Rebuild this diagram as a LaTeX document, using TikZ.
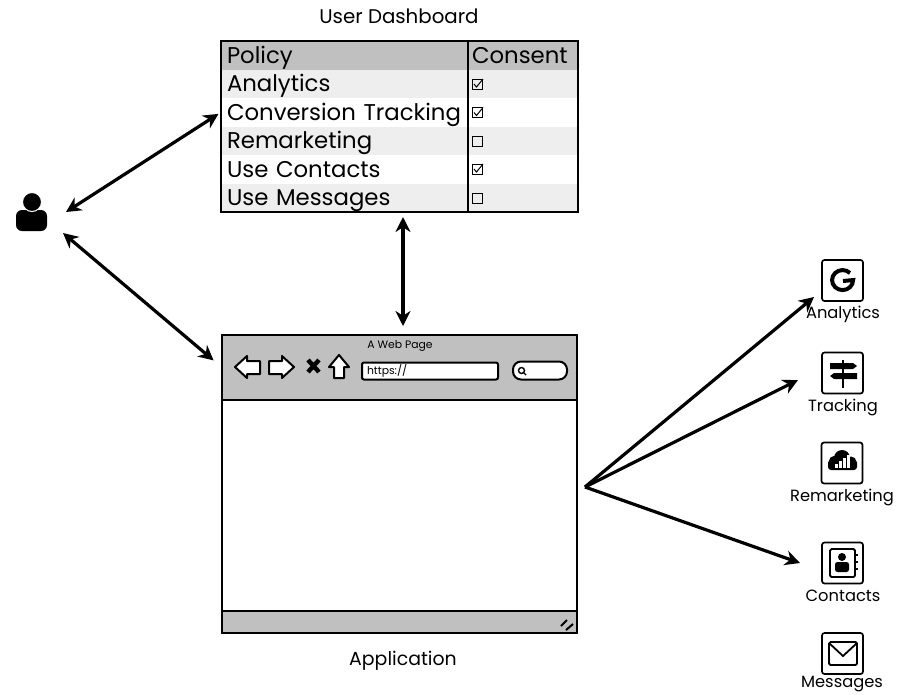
\documentclass[tikz,border=0pt]{standalone}
\usepackage{fontspec}
\setmainfont{Poppins}
\usetikzlibrary{arrows.meta}
\definecolor{barGray}{HTML}{C0C0C0}
\definecolor{rowGray}{HTML}{EEEEEE}
\tikzset{
	every node/.style={outer sep=0pt},
	policyrow/.style={anchor=north west,minimum width=247pt,minimum height=28.5pt,inner sep=0pt,text width=235pt,text height=18pt,text depth=2pt,align=left,font=\fontsize{22.8}{24}\selectfont},
	consentrow/.style={anchor=north west,minimum width=110pt,minimum height=28.5pt,inner sep=0pt,text width=102pt,text height=18pt,text depth=2pt,align=left,font=\fontsize{22.8}{24}\selectfont},
	flow/.style={line width=3.2pt,{Stealth[length=15pt,width=15pt]}-{Stealth[length=15pt,width=15pt]}},
	flowout/.style={line width=3.2pt,-{Stealth[length=15pt,width=15pt]}},
	iconbox/.style={draw=black,line width=1.7pt,rounded corners=2.5pt,minimum size=41pt,inner sep=0pt},
	iconlabel/.style={inner sep=0pt,font=\fontsize{16.3}{18}\selectfont},
	tick/.style={draw=black,line width=.8pt,minimum size=10pt,inner sep=0pt},
	sketch/.style={draw=black,line width=2pt,line join=round}
}
\begin{document}
\begin{tikzpicture}[x=1pt,y=-1pt]
	\useasboundingbox (0,0) rectangle (899,694);

	\node [font=\fontsize{19.8}{22}\selectfont,inner sep=0pt] (dashtitle) at (399,16) {User Dashboard};
	\node [policyrow,fill=barGray] (policy) at (221,41) {Policy};
	\node [policyrow,fill=rowGray] (analytics) at (221,69.5) {Analytics};
	\node [policyrow,fill=white] (conversion) at (221,98) {Conversion Tracking};
	\node [policyrow,fill=rowGray] (remarketing) at (221,126.5) {Remarketing};
	\node [policyrow,fill=white] (contacts) at (221,155) {Use Contacts};
	\node [policyrow,fill=rowGray] (messages) at (221,183.5) {Use Messages};
	\node [consentrow,fill=barGray] (consent) at (468,41) {Consent};
	\node [consentrow,fill=rowGray] (consenta) at (468,69.5) {};
	\node [consentrow,fill=white] (consentb) at (468,98) {};
	\node [consentrow,fill=rowGray] (consentc) at (468,126.5) {};
	\node [consentrow,fill=white] (consentd) at (468,155) {};
	\node [consentrow,fill=rowGray] (consente) at (468,183.5) {};
	\node [draw=black,line width=2pt,anchor=north west,minimum width=357pt,minimum height=171pt,inner sep=0pt] (dashboard) at (221,41) {};
	\draw [line width=1.8pt] (policy.north east) -- (messages.south east);
	\node [tick] (ticka) at (477,84) {};
	\node [tick] (tickb) at (477,112.5) {};
	\node [tick] (tickc) at (477,141) {};
	\node [tick] (tickd) at (477,169) {};
	\node [tick] (ticke) at (477,198) {};
	\foreach \y in {84,112.5,169}
		\draw [line width=1pt] (474,\y) -- (476.5,\y+3) -- (483,\y-5);

	\node [anchor=north west,draw=black,line width=2pt,minimum width=355pt,minimum height=298pt,inner sep=0pt] (browser) at (222,335) {};
	\node [anchor=north west,fill=barGray,draw=black,line width=2pt,minimum width=355pt,minimum height=65pt,inner sep=0pt] (toolbar) at (222,335) {};
	\node [anchor=north west,fill=barGray,draw=black,line width=2pt,minimum width=355pt,minimum height=22pt,inner sep=0pt] (statusbar) at (222,611) {};
	\node [inner sep=0pt,font=\fontsize{10.8}{12}\selectfont] (pagetitle) at (400,346) {A Web Page};
	\filldraw [sketch,fill=white] (235,367) -- (247,356) -- (247,361) -- (260,361) -- (260,374) -- (247,374) -- (247,378) -- cycle;
	\filldraw [sketch,fill=white] (294,367) -- (282,356) -- (282,361) -- (269,361) -- (269,374) -- (282,374) -- (282,378) -- cycle;
	\draw [line width=4.4pt] (308,360) -- (319,372) (319,360) -- (308,372);
	\filldraw [sketch,fill=white] (339,355) -- (329,367) -- (334,367) -- (334,378) -- (344,378) -- (344,367) -- (349,367) -- cycle;
	\node [anchor=north west,draw=black,fill=white,line width=2pt,rounded corners=2pt,minimum width=136pt,minimum height=17pt,inner sep=0pt] (urlbox) at (362,362.5) {};
	\node [anchor=west,inner sep=0pt,font=\fontsize{10.8}{12}\selectfont] (urltext) at (367,371) {https://};
	\node [anchor=north west,draw=black,fill=white,line width=2pt,rounded corners=8pt,minimum width=54pt,minimum height=18pt,inner sep=0pt] (searchbox) at (513,361.5) {};
	\draw [line width=1.4pt] (521.5,370.5) circle [radius=3pt] (523.5,372.5) -- (526,375);
	\draw [line width=2pt] (561,626) -- (567,620) (566,630) -- (573,624);
	\node [inner sep=0pt,font=\fontsize{18.9}{21}\selectfont] (apptitle) at (403,661) {Application};

	\node [minimum width=68pt,minimum height=42pt,inner sep=0pt] (user) at (32,212) {};
	\fill [rounded corners=6pt] (16,231) -- (16,210) -- (47,210) -- (47,231) -- cycle;
	\filldraw [draw=white,line width=1pt,fill=black] (32,202) circle [radius=9.5pt];

	\node [iconbox] (analyticsicon) at (842.5,280.5) {};
	\node [iconbox] (trackingicon) at (842.5,373) {};
	\node [iconbox] (remarketingicon) at (842,463) {};
	\node [iconbox] (contactsicon) at (842.5,563) {};
	\node [iconbox] (messagesicon) at (842.5,653.5) {};
	\node [iconlabel] (analyticslabel) at (843,314) {Analytics};
	\node [iconlabel] (trackinglabel) at (843,407) {Tracking};
	\node [iconlabel] (remarketinglabel) at (842,497) {Remarketing};
	\node [iconlabel] (contactslabel) at (843,596) {Contacts};
	\node [iconlabel] (messageslabel) at (842,684.5) {Messages};

	\draw [line width=4pt] (850,273) arc [start angle=45,end angle=360,x radius=10.5pt,y radius=10pt] -- (843,281);
	\draw [line width=2.6pt] (843,360) -- (843,388);
	\fill (830,363) -- (853,363) -- (857,366) -- (853,369) -- (830,369) -- cycle;
	\fill (857,373) -- (834,373) -- (830,376) -- (834,379) -- (857,379) -- cycle;
	\fill [rounded corners=3pt] (828,470) -- (828,460) -- (857,460) -- (857,470) -- cycle;
	\fill (842,458) circle [radius=8pt];
	\fill (834,461) circle [radius=5pt];
	\fill (851,462) circle [radius=5.5pt];
	\foreach \x/\y in {835/464,839/461,843/458,847/455}
		\fill [white] (\x,\y) rectangle (\x+2.6,467.5);
	\draw [line width=1.8pt,rounded corners=1.5pt] (830,549) rectangle (855,577);
	\fill (842,557) circle [radius=4pt];
	\fill [rounded corners=2.5pt] (835,572) -- (835,562) -- (849,562) -- (849,572) -- cycle;
	\foreach \y in {555,562,569}
		\draw [line width=1.4pt] (855,\y) -- (858,\y);
	\draw [line width=1.8pt,rounded corners=1.5pt] (829,642) rectangle (857,665);
	\draw [line width=1.8pt] (829,643) -- (843,656) -- (857,643);

	\coordinate (fanout) at (585,487);
	\draw [flow,shorten >=3pt] (user.east) -- (conversion.west);
	\draw [flow,shorten >=11pt] ([shift={(-3,0)}]user.south east) -- (toolbar.west);
	\draw [flow,shorten <=5pt,shorten >=9pt] ([shift={(3.5,0)}]dashboard.south) -- ([shift={(3.5,0)}]toolbar.north);
	\draw [flowout] (fanout) -- ([shift={(-8,-4)}]analyticsicon.south west);
	\draw [flowout] (fanout) -- ([shift={(-24,7)}]trackingicon.west);
	\draw [flowout] (fanout) -- ([shift={(-22,0)}]contactsicon.west);
\end{tikzpicture}
\end{document}
